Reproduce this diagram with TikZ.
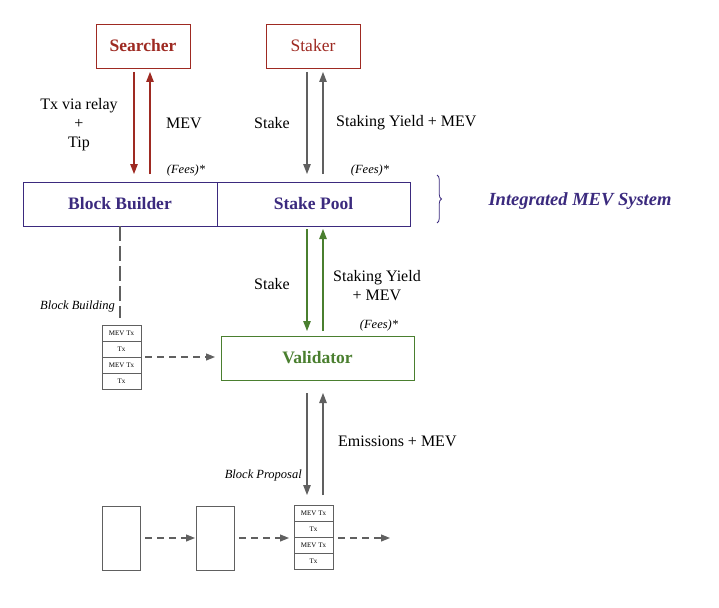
\documentclass[tikz,border=0pt]{standalone}
\usepackage{fontspec}
\setmainfont{Liberation Serif}
\usetikzlibrary{arrows.meta,decorations.pathreplacing}
\definecolor{cred}{HTML}{9E2A22}
\definecolor{cpur}{HTML}{3B2A7E}
\definecolor{cgrn}{HTML}{4A7F2F}
\definecolor{cgry}{HTML}{606060}
\begin{document}
\begin{tikzpicture}[x=1pt,y=-1pt,
  box/.style={draw=#1,line width=0.9pt,inner sep=0pt,text=#1},
  arr/.style={line width=1.2pt,-{Triangle[length=10pt,width=7.5pt]}},
  dasharr/.style={cgry,line width=1.1pt,dash pattern=on 7pt off 5pt,-{Triangle[length=9pt,width=7pt]}},
  cell/.style={draw=cgry,line width=0.8pt,minimum width=39pt,minimum height=16pt,inner sep=0pt,font=\fontsize{7}{8}\selectfont},
  blk/.style={draw=cgry,line width=0.8pt,minimum width=38pt,minimum height=64pt,inner sep=0pt},
  lbl/.style={font=\fontsize{16}{19}\selectfont,inner sep=0pt,align=center},
  fee/.style={font=\fontsize{12.5}{15}\selectfont\itshape,inner sep=0pt},
  ttl/.style={font=\fontsize{17.5}{21}\selectfont\bfseries},
]
\useasboundingbox[fill=white] (0,0) rectangle (719,607);

% top boxes
\node[box=cred,minimum width=94pt,minimum height=44pt,ttl] (searcher) at (143,46) {Searcher};
\node[box=cred,minimum width=94pt,minimum height=44pt,font=\fontsize{17.5}{21}\selectfont] (staker) at (313,46) {Staker};

% integrated system
\node[box=cpur,minimum width=194pt,minimum height=44pt,ttl] (bb) at (120,204) {Block Builder};
\node[box=cpur,minimum width=193pt,minimum height=44pt,ttl] (sp) at (313.5,204) {Stake Pool};
\coordinate (brt) at (437,175);
\coordinate (brb) at (437,223);
\draw[cpur,line width=0.8pt,decorate,decoration={brace,amplitude=4.5pt}] (brt) -- (brb);
\node[text=cpur,font=\fontsize{18.5}{22}\selectfont\bfseries\itshape,inner sep=0pt] (ims) at (580,201) {Integrated MEV System};

% validator
\node[box=cgrn,minimum width=193pt,minimum height=44pt,ttl] (val) at (317.5,358) {Validator};

% searcher arrows
\coordinate (s1t) at (134,72); \coordinate (s1b) at (134,174);
\coordinate (s2t) at (150,72); \coordinate (s2b) at (150,174);
\draw[arr,cred] (s1t) -- (s1b);
\draw[arr,cred] (s2b) -- (s2t);
\node[lbl] (txl) at (79,125) {Tx via relay\\+\\Tip};
\node[lbl] (mevl) at (184,123) {MEV};
\node[fee] (fee1) at (186,170) {(Fees)*};

% staker arrows
\coordinate (k1t) at (307,72); \coordinate (k1b) at (307,174);
\coordinate (k2t) at (323,72); \coordinate (k2b) at (323,174);
\draw[arr,cgry] (k1t) -- (k1b);
\draw[arr,cgry] (k2b) -- (k2t);
\node[lbl] (stk1) at (272,123) {Stake};
\node[lbl,anchor=west] (syl) at (336,123) {Staking Yield + MEV};
\node[fee] (fee2) at (370,170) {(Fees)*};

% green arrows
\coordinate (g1t) at (307,229); \coordinate (g1b) at (307,331);
\coordinate (g2t) at (323,229); \coordinate (g2b) at (323,331);
\draw[arr,cgrn] (g1t) -- (g1b);
\draw[arr,cgrn] (g2b) -- (g2t);
\node[lbl] (stk2) at (272,284) {Stake};
\node[lbl] (syl2) at (377,286) {Staking Yield\\+ MEV};
\node[fee] (fee3) at (379,325) {(Fees)*};

% block building
\coordinate (bbd) at (120,318);
\draw[cgry,line width=1.1pt,dash pattern=on 15pt off 5pt] (bb.south) -- (bbd);
\node[fee,anchor=east] (bbl) at (115,306) {Block Building};
\node[cell] (c1) at (121.5,333) {MEV Tx};
\node[cell] (c2) at (121.5,349) {Tx};
\node[cell] (c3) at (121.5,365) {MEV Tx};
\node[cell] (c4) at (121.5,381) {Tx};
\coordinate (d1a) at (145,357); \coordinate (d1b) at (215,357);
\draw[dasharr] (d1a) -- (d1b);

% validator down arrows
\coordinate (v1t) at (307,393); \coordinate (v1b) at (307,495);
\coordinate (v2t) at (323,393); \coordinate (v2b) at (323,495);
\draw[arr,cgry] (v1t) -- (v1b);
\draw[arr,cgry] (v2b) -- (v2t);
\node[lbl,anchor=west] (eml) at (338,441) {Emissions + MEV};
\node[fee,anchor=east] (bpl) at (302,475) {Block Proposal};

% chain
\node[blk] (b1) at (121,538) {};
\node[blk] (b2) at (215,538) {};
\node[cell] (e1) at (313.5,513) {MEV Tx};
\node[cell] (e2) at (313.5,529) {Tx};
\node[cell] (e3) at (313.5,545) {MEV Tx};
\node[cell] (e4) at (313.5,561) {Tx};
\coordinate (d2a) at (145,538); \coordinate (d2b) at (195,538);
\coordinate (d3a) at (239,538); \coordinate (d3b) at (289,538);
\coordinate (d4a) at (338,538); \coordinate (d4b) at (390,538);
\draw[dasharr] (d2a) -- (d2b);
\draw[dasharr] (d3a) -- (d3b);
\draw[dasharr] (d4a) -- (d4b);
\end{tikzpicture}
\end{document}
